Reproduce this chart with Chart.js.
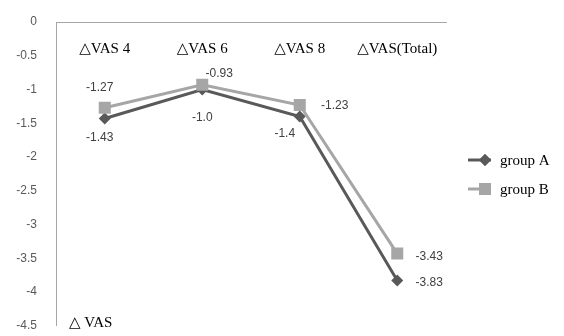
<!DOCTYPE html>
<html>
<head>
<meta charset="utf-8">
<script src="https://cdn.jsdelivr.net/npm/chart.js@4/dist/chart.umd.min.js"></script>
<style>
  html, body { margin: 0; padding: 0; background: #fff; }
  #wrap { width: 564px; height: 336px; }
</style>
</head>
<body>
<div id="wrap"><canvas id="vasChart" width="564" height="336"></canvas></div>
<script>
// chart values
const categories = ['\u25B3VAS 4', '\u25B3VAS 6', '\u25B3VAS 8', '\u25B3VAS(Total)'];
const groupA = [-1.43, -1.0, -1.4, -3.83];
const groupB = [-1.27, -0.93, -1.23, -3.43];
const groupALabels = ['-1.43', '-1.0', '-1.4', '-3.83'];
const groupBLabels = ['-1.27', '-0.93', '-1.23', '-3.43'];
const yTicks = [0, -0.5, -1, -1.5, -2, -2.5, -3, -3.5, -4, -4.5];
const seriesNames = ['group A', 'group B'];
const axisTitle = '\u25B3 VAS';

const colorA = '#595959';
const colorB = '#a6a6a6';
const serif = '"Liberation Serif", "DejaVu Serif", serif';
const sans = '"Liberation Sans", Arial, sans-serif';

// where each value label sits relative to its point
const labelOffsetsA = [[-5, 19], [0, 28], [-15, 17], [32, 2]];
const labelOffsetsB = [[-5, -20], [17, -11], [35, 1], [32, 3]];

// value labels, legend and the axis caption
const annotatePlugin = {
    id: 'annotate',
    afterDatasetsDraw(chart) {
        const ctx = chart.ctx;
        ctx.save();
        ctx.font = '12px ' + sans;
        ctx.fillStyle = '#404040';
        ctx.textAlign = 'center';
        ctx.textBaseline = 'middle';
        const sets = [[groupALabels, labelOffsetsA], [groupBLabels, labelOffsetsB]];
        chart.data.datasets.forEach((ds, i) => {
            const meta = chart.getDatasetMeta(i);
            meta.data.forEach((pt, j) => {
                const off = sets[i][1][j];
                ctx.fillText(sets[i][0][j], pt.x + off[0], pt.y + off[1]);
            });
        });

        // legend
        const legendY = [160, 189];
        const styles = [[colorA, 'rectRot', 6], [colorB, 'rect', 8.5]];
        legendY.forEach((y, i) => {
            ctx.strokeStyle = styles[i][0];
            ctx.lineWidth = 3;
            ctx.beginPath();
            ctx.moveTo(468, y);
            ctx.lineTo(491, y);
            ctx.stroke();
            ctx.fillStyle = styles[i][0];
            Chart.helpers.drawPoint(ctx, { pointStyle: styles[i][1], radius: styles[i][2], rotation: 0, borderWidth: 0 }, 485, y);
            ctx.fill();
            ctx.fillStyle = '#000';
            ctx.font = '15px ' + serif;
            ctx.textAlign = 'left';
            ctx.fillText(seriesNames[i], 500, y + 1);
        });

        // caption inside plot, bottom left
        ctx.font = '15px ' + serif;
        ctx.fillStyle = '#000';
        ctx.textAlign = 'left';
        ctx.fillText(axisTitle, 69, 323);
        ctx.restore();
    }
};

const ctx = document.getElementById('vasChart').getContext('2d');
new Chart(ctx, {
    type: 'line',
    data: {
        labels: categories,
        datasets: [
            {
                label: seriesNames[0],
                data: groupA,
                borderColor: colorA,
                backgroundColor: colorA,
                borderWidth: 3,
                pointStyle: 'rectRot',
                pointRadius: 6,
                pointBorderWidth: 0,
                tension: 0,
                order: 1
            },
            {
                label: seriesNames[1],
                data: groupB,
                borderColor: colorB,
                backgroundColor: colorB,
                borderWidth: 3,
                pointStyle: 'rect',
                pointRadius: 8.5,
                pointBorderWidth: 0,
                tension: 0,
                order: 0
            }
        ]
    },
    options: {
        responsive: false,
        animation: false,
        events: [],
        layout: { padding: { left: 0, top: 22, right: 118, bottom: 9 } },
        scales: {
            x: {
                type: 'category',
                offset: true,
                position: { y: 0 },
                afterFit(scale) { scale.height = 0; },
                // tick marks are not drawn (grid off), their length only pushes labels down
                grid: { display: false, drawTicks: true, tickLength: 15 },
                border: { display: true, color: '#a6a6a6', width: 1 },
                ticks: {
                    padding: 3,
                    color: '#000',
                    font: { family: serif, size: 15 },
                    maxRotation: 0,
                    autoSkip: false
                }
            },
            y: {
                min: -4.5,
                max: 0,
                grid: { display: false, drawTicks: true, tickLength: 16 },
                border: { display: true, color: '#a6a6a6', width: 1 },
                afterFit(scale) { scale.width = 56; },
                afterBuildTicks(scale) { scale.ticks = yTicks.map(v => ({ value: v })); },
                ticks: {
                    padding: 3,
                    color: '#595959',
                    font: { family: sans, size: 12 },
                    callback: (value) => String(value)
                }
            }
        },
        plugins: {
            legend: { display: false },
            tooltip: { enabled: false }
        }
    },
    plugins: [annotatePlugin]
});
</script>
</body>
</html>
